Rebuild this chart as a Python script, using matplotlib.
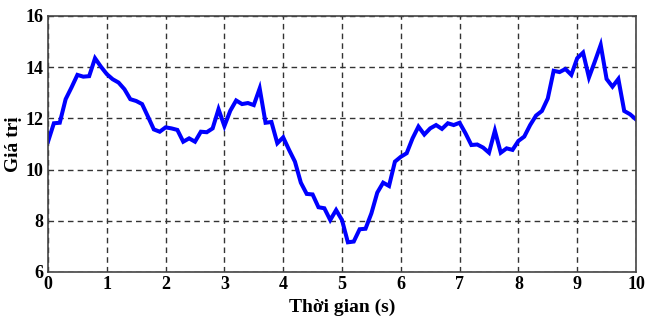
import numpy as np
import matplotlib.pyplot as plt

# Sampled signal, one value every 0.1 s
t = np.round(np.arange(0, 10.01, 0.1), 1)
values = [11.09, 11.81, 11.83, 12.75, 13.21, 13.70, 13.63, 13.65, 14.35, 14.02,
          13.73, 13.53, 13.40, 13.14, 12.75, 12.68, 12.56, 12.07, 11.57, 11.48,
          11.65, 11.61, 11.55, 11.09, 11.22, 11.09, 11.48, 11.46, 11.61, 12.36,
          11.70, 12.30, 12.70, 12.56, 12.60, 12.52, 13.17, 11.83, 11.86, 11.03,
          11.26, 10.77, 10.31, 9.49, 9.05, 9.03, 8.53, 8.49, 8.03, 8.42,
          8.03, 7.16, 7.19, 7.67, 7.69, 8.29, 9.10, 9.49, 9.36, 10.31,
          10.50, 10.64, 11.22, 11.68, 11.37, 11.61, 11.74, 11.59, 11.81, 11.74,
          11.83, 11.42, 10.96, 10.98, 10.86, 10.66, 11.52, 10.66, 10.83, 10.77,
          11.12, 11.29, 11.74, 12.11, 12.29, 12.78, 13.86, 13.81, 13.93, 13.70,
          14.35, 14.57, 13.60, 14.22, 14.87, 13.54, 13.24, 13.54, 12.29, 12.16,
          11.96]
xticks = list(range(0, 11))
yticks = [6, 8, 10, 12, 14, 16]

plt.rcParams['font.family'] = ['Liberation Serif', 'DejaVu Serif']
plt.rcParams['font.weight'] = 'bold'

fig = plt.figure(figsize=(6.46, 3.2), dpi=100)
ax = fig.add_axes([0.0743, 0.15, 0.9102, 0.80])

ax.plot(t, values, color='#0000ff', linewidth=2.9, solid_joinstyle='miter')

ax.set_xlim(0, 10)
ax.set_ylim(6, 16)
ax.set_xticks(xticks)
ax.set_yticks(yticks)
ax.grid(True, linestyle=(0, (4, 3)), color='#333333', linewidth=1.0)
ax.tick_params(length=0, labelsize=13, pad=3)
for lab in ax.get_xticklabels() + ax.get_yticklabels():
    lab.set_fontweight('bold')
for s in ax.spines.values():
    s.set_color('#444444')
    s.set_linewidth(1.2)

ax.set_xlabel('Thời gian (s)', fontsize=14, fontweight='bold', labelpad=4)
ax.set_ylabel('Giá trị', fontsize=14, fontweight='bold', labelpad=3)

fig.savefig('out.png', dpi=100)
